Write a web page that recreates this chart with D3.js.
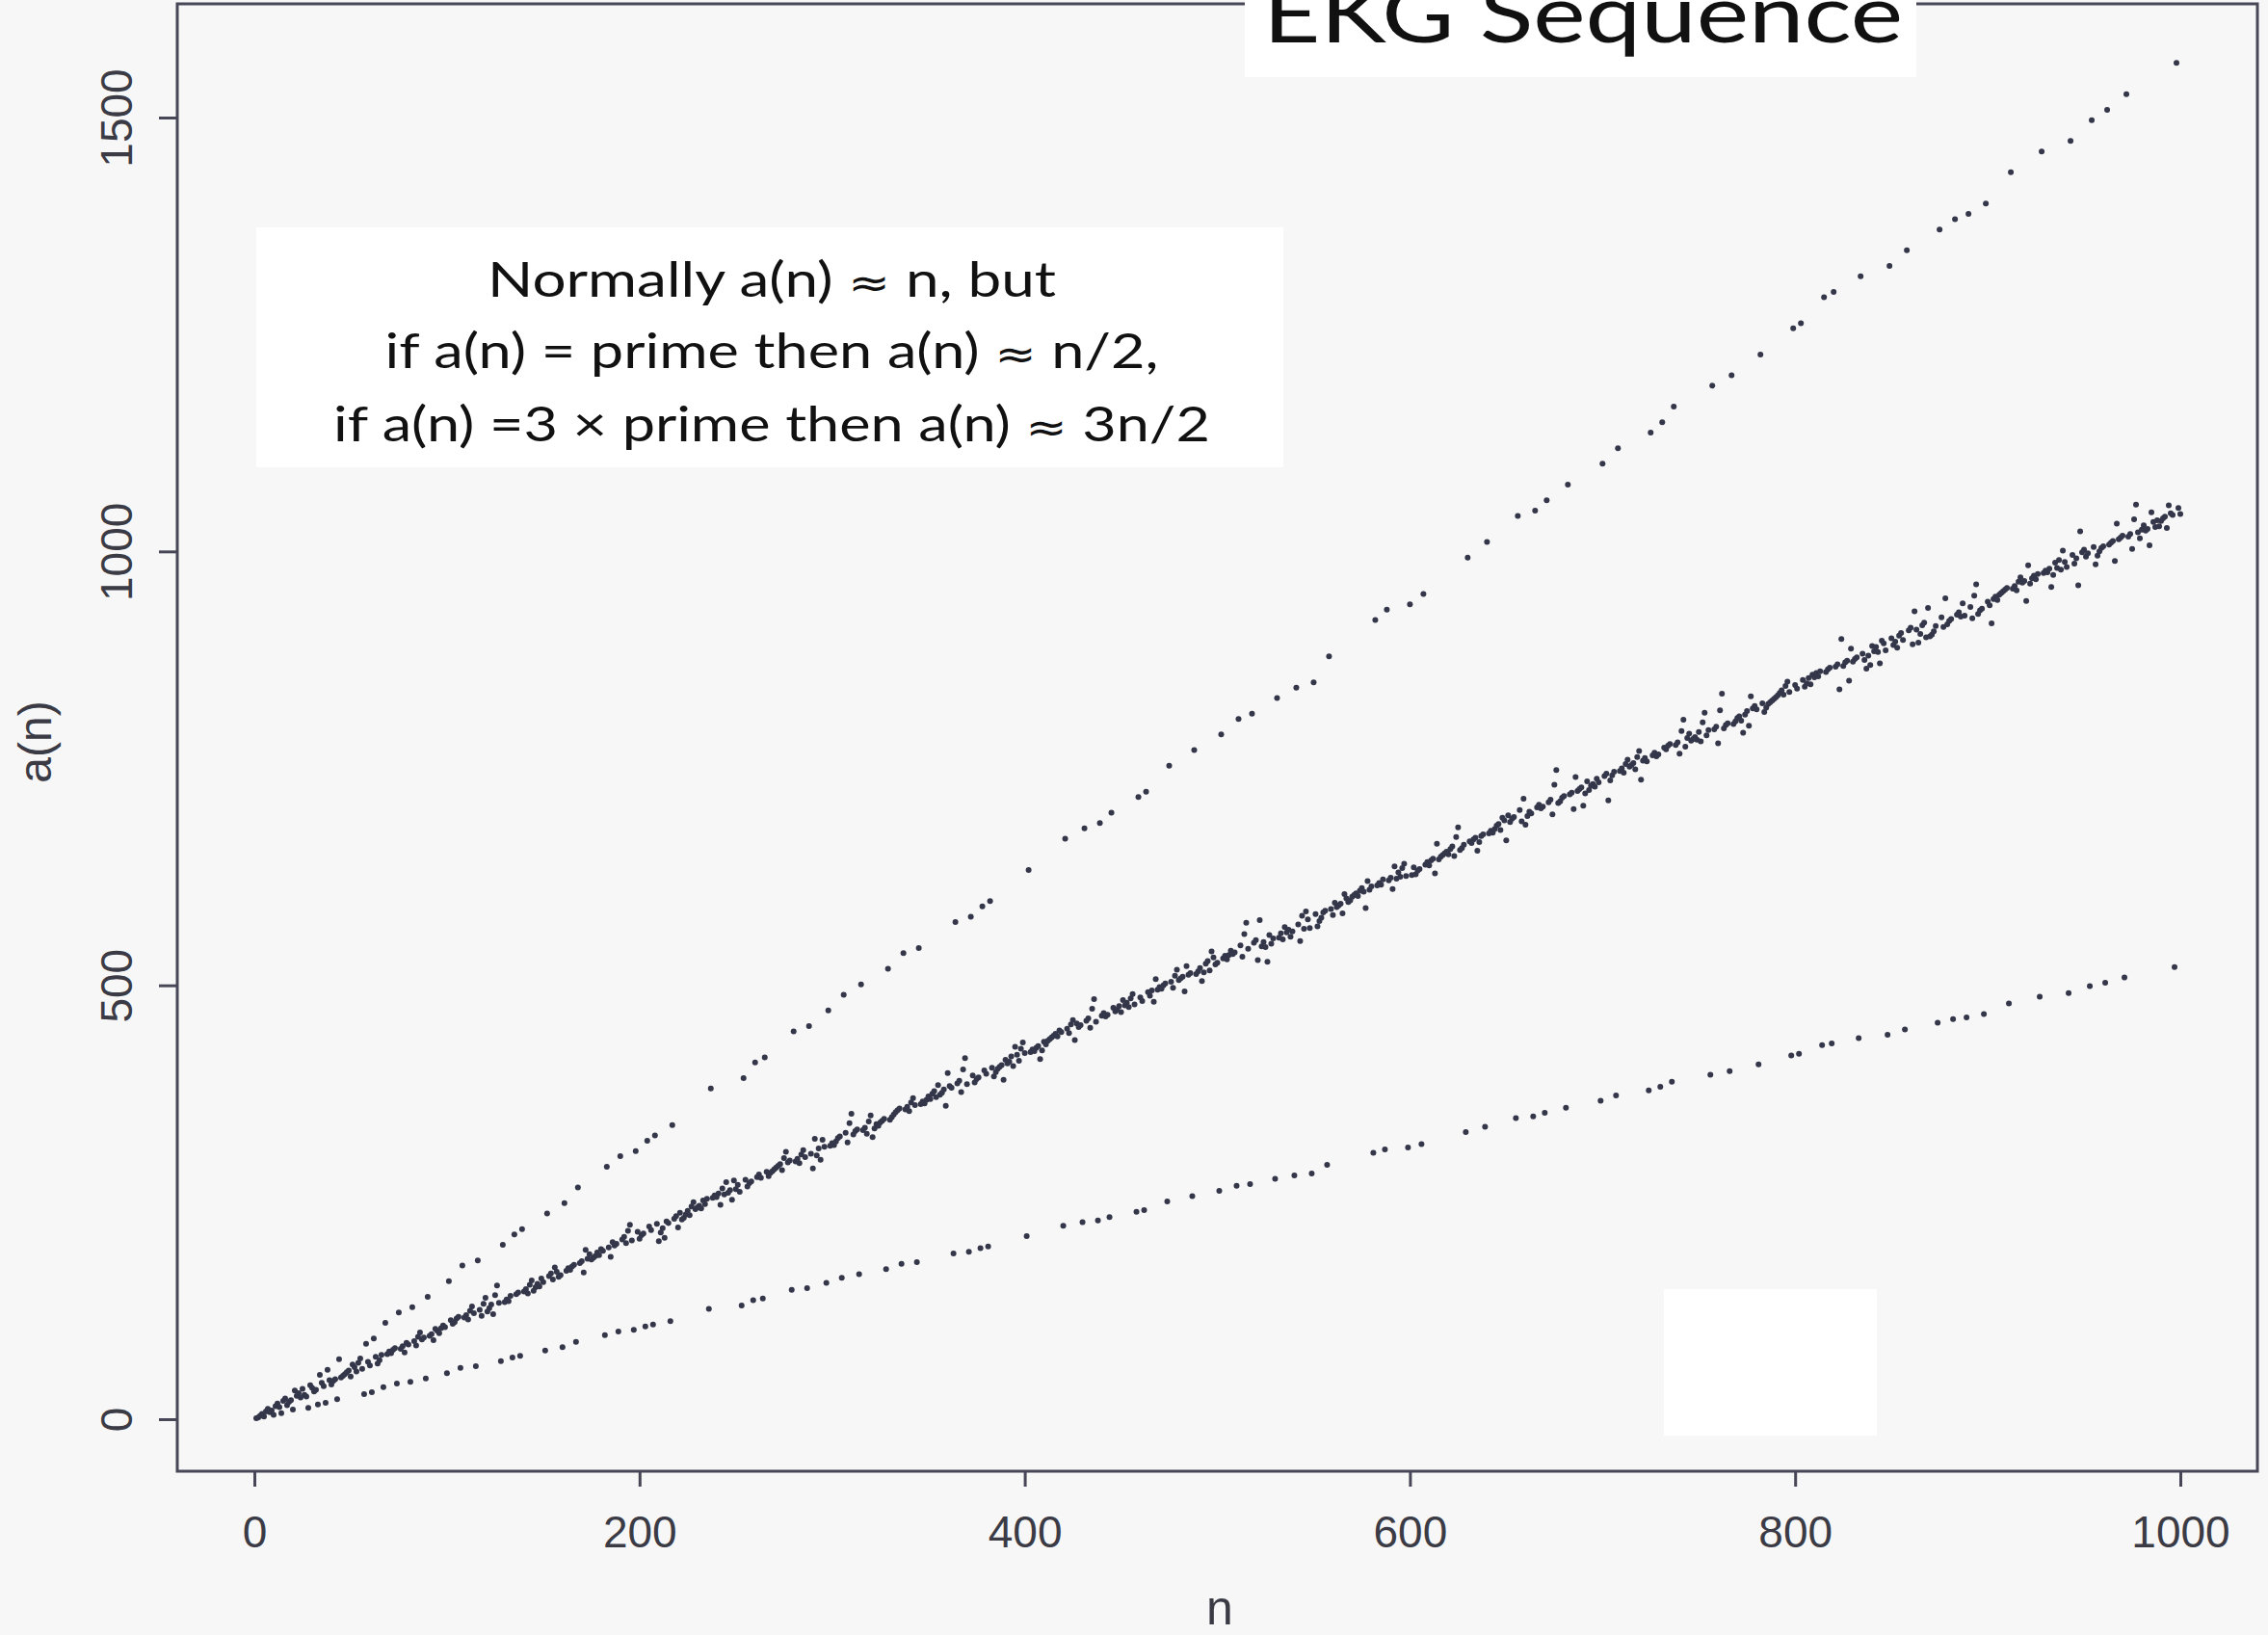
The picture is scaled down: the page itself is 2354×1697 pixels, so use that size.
<!DOCTYPE html>
<html lang="en">
<head>
<meta charset="UTF-8">
<title>EKG Sequence</title>
<script src="https://cdn.jsdelivr.net/npm/d3@7"></script>
<style>
  body { margin: 0; background: #f7f7f7; }
  .tick text { font-family: "Liberation Sans", Arial, sans-serif; fill: #3b3b46; }
</style>
</head>
<body>
<svg id="chart" width="2354" height="1697"></svg>
<script>
  // a(n) for n = 1..1000
  var ekgValues = [
    // 1-100
    1,2,4,6,3,9,12,8,10,5,15,18,14,7,21,24,16,20,22,11,
    33,27,30,25,35,28,26,13,39,36,32,34,17,51,42,38,19,57,45,40,
    44,46,23,69,48,50,52,54,56,49,63,60,55,65,70,58,29,87,66,62,
    31,93,72,64,68,74,37,111,75,78,76,80,82,41,123,81,84,77,88,86,
    43,129,90,85,95,100,92,94,47,141,96,98,91,104,102,99,105,108,106,53,
    // 101-200
    159,114,110,112,116,118,59,177,117,120,115,125,130,122,61,183,126,119,133,140,
    124,128,132,121,143,154,134,67,201,135,138,136,142,71,213,144,146,73,219,147,
    150,145,155,160,148,152,156,153,162,158,79,237,165,168,161,175,170,164,166,83,
    249,171,174,172,176,178,89,267,180,182,169,195,185,190,184,186,188,192,189,196,
    194,97,291,198,187,204,200,202,101,303,207,210,203,217,224,206,103,309,216,208,
    // 201-300
    212,214,107,321,222,218,109,327,225,205,215,220,209,228,226,113,339,231,234,221,
    238,230,232,236,240,235,245,250,242,244,246,243,252,248,254,127,381,255,258,256,
    260,247,266,259,273,261,264,253,275,265,270,262,131,393,276,268,272,274,137,411,
    279,282,278,139,417,285,280,284,286,288,290,292,294,287,301,308,296,298,149,447,
    297,300,295,305,310,302,151,453,306,289,323,304,312,299,322,314,157,471,315,318,
    // 301-400
    316,320,324,326,163,489,330,319,341,352,328,332,334,167,501,333,336,329,343,350,
    325,335,340,338,342,344,346,173,519,345,348,351,354,356,358,179,537,357,360,355,
    365,370,362,181,543,363,366,364,368,372,369,375,378,371,385,374,376,380,361,399,
    384,382,191,573,387,390,377,403,416,386,193,579,396,388,392,394,197,591,402,398,
    199,597,405,395,400,404,406,408,391,414,410,412,418,407,429,420,413,427,434,422,
    // 401-500
    211,633,423,426,424,428,430,415,425,435,432,436,438,440,442,444,441,448,446,223,
    669,450,445,455,460,437,456,452,454,227,681,459,462,451,473,484,458,229,687,465,
    468,464,466,233,699,474,470,472,476,469,483,477,480,475,485,490,478,239,717,486,
    482,241,723,492,488,494,481,507,495,498,496,500,502,251,753,504,497,511,518,506,
    508,510,493,522,512,514,257,771,513,516,520,505,515,525,528,517,539,532,524,526,
    // 501-600
    263,789,531,534,530,535,540,536,538,269,807,546,533,559,572,542,271,813,549,552,
    529,575,545,550,544,527,558,548,554,277,831,555,560,553,567,561,564,556,562,281,
    843,570,551,580,565,585,576,566,283,849,582,568,574,578,584,586,293,879,588,581,
    595,590,592,594,583,605,600,596,598,602,604,606,603,609,612,608,589,620,610,614,
    307,921,615,618,616,622,311,933,621,624,611,637,623,630,625,635,640,626,313,939,
    // 601-700
    627,636,628,632,634,317,951,639,642,638,644,646,629,663,645,648,650,652,654,651,
    657,660,649,671,682,656,658,662,331,993,666,664,668,670,655,665,672,674,337,1011,
    675,678,676,680,684,686,679,693,690,667,696,688,692,694,347,1041,702,689,715,685,
    695,700,698,349,1047,705,708,704,706,353,1059,711,714,697,731,748,710,712,716,718,
    359,1077,720,722,703,740,724,726,728,707,721,735,725,730,732,729,738,734,367,1101,
    // 701-800
    741,744,713,736,742,746,373,1119,747,750,745,755,760,752,754,756,749,763,770,737,
    759,762,758,379,1137,765,768,764,766,383,1149,774,772,776,778,389,1167,777,780,767,
    793,806,775,785,790,782,784,786,783,792,781,803,814,788,794,397,1191,795,798,779,
    817,836,796,800,802,401,1203,801,804,808,810,805,791,812,816,799,833,819,822,818,
    409,1227,825,815,820,824,826,828,830,832,834,837,840,835,845,850,838,419,1257,846,
    // 801-900
    842,421,1263,852,844,848,854,847,858,855,860,856,862,431,1293,861,864,866,433,1299,
    867,870,841,899,868,872,874,851,888,873,876,878,439,1317,882,875,865,880,869,891,
    885,890,884,871,897,894,886,443,1329,900,892,896,889,903,906,898,449,1347,909,912,
    893,931,910,895,905,915,918,901,935,902,904,908,914,457,1371,924,913,946,916,920,
    922,461,1383,927,930,925,940,926,463,1389,936,923,949,962,928,932,934,467,1401,942,
    // 901-1000
    938,917,945,948,944,950,952,954,956,958,479,1437,957,960,955,965,970,964,966,943,
    984,963,969,972,968,974,487,1461,975,978,976,980,959,973,987,981,990,979,1001,988,
    982,491,1473,996,986,992,961,1023,999,1002,994,998,499,1497,1005,985,995,1000,1004,1006,
    503,1509,1008,1010,1012,989,1032,1014,1016,1018,509,1527,1017,1020,1003,1037,1054,1022,1015,1025,
    1030,1024,1026,1007,1045,1034,1028,1036,1029,1035,1038,1040,1027,1053,1044,1042,521,1563,1050,1043
  ];
  var xTicks = [0, 200, 400, 600, 800, 1000];
  var yTicks = [0, 500, 1000, 1500];
  var titleText = "EKG Sequence";
  var noteLines = [
    "Normally a(n) \u2248 n, but",
    "if a(n) = prime then a(n) \u2248 n/2,",
    "if a(n) =3 \u00d7 prime then a(n) \u2248 3n/2"
  ];

  var svg = d3.select("#chart"),
      axisColor = "#474757",
      dotColor = "#34364a",
      box = { left: 184, top: 4, right: 2343, bottom: 1527 };

  var x = d3.scaleLinear().domain([0, 1000]).range([264, 2263]);
  var y = d3.scaleLinear().domain([0, 1500]).range([1473, 122]);

  svg.append("rect").attr("width", 2354).attr("height", 1697).attr("fill", "#f7f7f7");

  // points
  svg.append("g").selectAll("circle")
    .data(ekgValues)
    .enter().append("circle")
    .attr("cx", function (d, i) { return x(i + 1); })
    .attr("cy", function (d) { return y(d); })
    .attr("r", 3)
    .attr("fill", dotColor);

  // plot frame
  svg.append("rect")
    .attr("x", box.left).attr("y", box.top)
    .attr("width", box.right - box.left).attr("height", box.bottom - box.top)
    .attr("fill", "none").attr("stroke", axisColor).attr("stroke-width", 3);

  // x axis
  var gx = svg.append("g")
    .attr("transform", "translate(0," + box.bottom + ")")
    .call(d3.axisBottom(x).tickValues(xTicks).tickSize(16).tickPadding(0).tickFormat(d3.format("d")));
  gx.select(".domain").remove();
  gx.selectAll(".tick line").attr("stroke", axisColor).attr("stroke-width", 3);
  gx.selectAll(".tick text")
    .attr("y", 79).attr("dy", null)
    .attr("font-size", 46);

  // y axis, labels turned like in R
  var gy = svg.append("g")
    .attr("transform", "translate(" + box.left + ",0)")
    .call(d3.axisLeft(y).tickValues(yTicks).tickSize(19).tickFormat(d3.format("d")));
  gy.select(".domain").remove();
  gy.selectAll(".tick line").attr("stroke", axisColor).attr("stroke-width", 3);
  gy.selectAll(".tick text")
    .attr("transform", "rotate(-90)")
    .attr("x", 0).attr("y", -47).attr("dy", null)
    .attr("text-anchor", "middle")
    .attr("font-size", 46);

  // axis titles
  svg.append("text")
    .attr("x", 1266).attr("y", 1686)
    .attr("text-anchor", "middle")
    .attr("font-family", "Liberation Sans, Arial, sans-serif")
    .attr("font-size", 50).attr("fill", "#3b3b46")
    .text("n");
  svg.append("text")
    .attr("transform", "translate(53,770) rotate(-90)")
    .attr("text-anchor", "middle")
    .attr("font-family", "Liberation Sans, Arial, sans-serif")
    .attr("font-size", 48).attr("fill", "#3b3b46")
    .text("a(n)");

  // title box
  svg.append("rect").attr("x", 1292).attr("y", 0).attr("width", 697).attr("height", 80).attr("fill", "#ffffff");
  svg.append("text")
    .attr("x", 1311).attr("y", 44)
    .attr("font-family", "Lato, 'Open Sans', sans-serif")
    .attr("font-size", 83).attr("fill", "#111111")
    .attr("textLength", 664).attr("lengthAdjust", "spacingAndGlyphs")
    .text(titleText);

  // note box; the approx sign comes from DejaVu, Lato draws it too small
  svg.append("rect").attr("x", 266).attr("y", 236).attr("width", 1066).attr("height", 249).attr("fill", "#ffffff");
  var noteBase = [308, 382, 458],
      noteWidth = [590, 803, 910];
  var notes = svg.append("g").selectAll("text")
    .data(noteLines)
    .enter().append("text")
    .attr("x", 801)
    .attr("y", function (d, i) { return noteBase[i]; })
    .attr("text-anchor", "middle")
    .attr("font-family", "Lato, 'Open Sans', sans-serif")
    .attr("font-size", 50).attr("fill", "#111111")
    .attr("textLength", function (d, i) { return noteWidth[i]; })
    .attr("lengthAdjust", "spacingAndGlyphs");
  notes.each(function (d) {
    var t = d3.select(this);
    d.split("\u2248").forEach(function (part, j) {
      if (j > 0) t.append("tspan").attr("font-family", "DejaVu Sans").attr("font-size", 42).text("\u2248");
      t.append("tspan").text(part);
    });
  });

  // blank patch in the lower right
  svg.append("rect").attr("x", 1727).attr("y", 1338).attr("width", 221).attr("height", 152).attr("fill", "#ffffff");
</script>
</body>
</html>
